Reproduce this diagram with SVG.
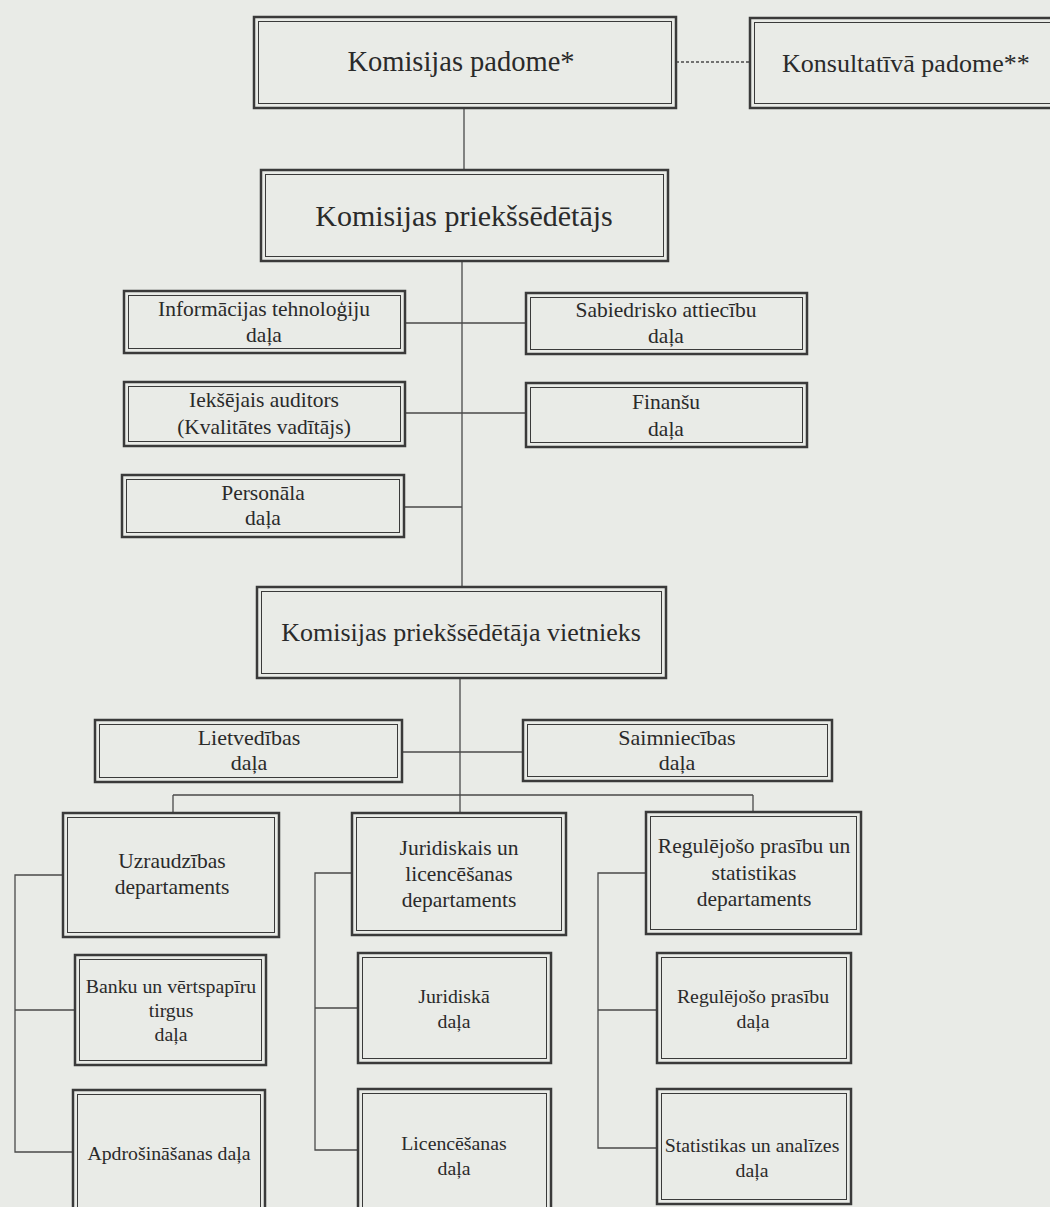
<svg xmlns="http://www.w3.org/2000/svg" width="1050" height="1207" viewBox="0 0 1050 1207">
<style>
.o{fill:none;stroke:#3a3a3a;stroke-width:2.5}
.i{fill:none;stroke:#3a3a3a;stroke-width:1}
.c{fill:none;stroke:#4a4a4a;stroke-width:1.3}
text{font-family:"Liberation Serif","Times New Roman",serif;fill:#2a2a2a;text-anchor:middle}
.ta{font-size:28.5px}
.tc{font-size:30px}
.td{font-size:26px}
.ts{font-size:21.5px}
.tl{font-size:22px}
.tp{font-size:21.5px}
.tb{font-size:19.8px}
</style>
<rect width="1050" height="1207" fill="#e9ebe7"/>
<g id="connectors">
<path class="c" d="M676 62 H750" stroke-dasharray="3 2"/>
<path class="c" d="M464 108 V170"/>
<path class="c" d="M462 261 V587"/>
<path class="c" d="M405 323 H526 M405 413 H526 M404 507 H462"/>
<path class="c" d="M460 678 V813"/>
<path class="c" d="M402 752 H523"/>
<path class="c" d="M173 795 H753 M173 795 V813 M753 795 V812"/>
<path class="c" d="M63 875 H15 V1152 H73 M15 1010 H75"/>
<path class="c" d="M352 873 H315 V1150 H358 M315 1008 H358"/>
<path class="c" d="M646 873 H598 V1148 H657 M598 1010 H657"/>
</g>
<g id="n1"><rect class="o" x="254" y="17" width="422" height="91"/><rect class="i" x="258.5" y="21.5" width="413" height="82"/><text class="ta" x="461" y="71">Komisijas padome*</text></g>
<g id="n2"><rect class="o" x="750" y="18" width="320" height="90"/><rect class="i" x="754.5" y="22.5" width="320" height="81"/><text class="td" x="782" y="72" style="text-anchor:start">Konsultatīvā padome**</text></g>
<g id="n3"><rect class="o" x="261" y="170" width="407" height="91"/><rect class="i" x="265.5" y="174.5" width="398" height="82"/><text class="tc" x="464" y="226">Komisijas priekšsēdētājs</text></g>
<g id="n4"><rect class="o" x="124" y="291" width="281" height="62"/><rect class="i" x="128.5" y="295.5" width="272" height="53"/><text class="ts" x="264" y="316">Informācijas tehnoloģiju</text><text class="ts" x="264" y="342">daļa</text></g>
<g id="n5"><rect class="o" x="526" y="293" width="281" height="61"/><rect class="i" x="530.5" y="297.5" width="272" height="52"/><text class="ts" x="666" y="317">Sabiedrisko attiecību</text><text class="ts" x="666" y="343">daļa</text></g>
<g id="n6"><rect class="o" x="124" y="382" width="281" height="64"/><rect class="i" x="128.5" y="386.5" width="272" height="55"/><text class="ts" x="264" y="407">Iekšējais auditors</text><text class="ts" x="264" y="434">(Kvalitātes vadītājs)</text></g>
<g id="n7"><rect class="o" x="526" y="383" width="281" height="64"/><rect class="i" x="530.5" y="387.5" width="272" height="55"/><text class="ts" x="666" y="409">Finanšu</text><text class="ts" x="666" y="436">daļa</text></g>
<g id="n8"><rect class="o" x="122" y="475" width="282" height="62"/><rect class="i" x="126.5" y="479.5" width="273" height="53"/><text class="ts" x="263" y="500">Personāla</text><text class="ts" x="263" y="525">daļa</text></g>
<g id="n9"><rect class="o" x="257" y="587" width="409" height="91"/><rect class="i" x="261.5" y="591.5" width="400" height="82"/><text class="td" x="461" y="641">Komisijas priekšsēdētāja vietnieks</text></g>
<g id="n10"><rect class="o" x="95" y="720" width="307" height="62"/><rect class="i" x="99.5" y="724.5" width="298" height="53"/><text class="tl" x="249" y="745">Lietvedības</text><text class="tl" x="249" y="770">daļa</text></g>
<g id="n11"><rect class="o" x="523" y="720" width="309" height="61"/><rect class="i" x="527.5" y="724.5" width="300" height="52"/><text class="tl" x="677" y="745">Saimniecības</text><text class="tl" x="677" y="770">daļa</text></g>
<g id="n12"><rect class="o" x="63" y="813" width="216" height="124"/><rect class="i" x="67.5" y="817.5" width="207" height="115"/><text class="tp" x="172" y="868">Uzraudzības</text><text class="tp" x="172" y="894">departaments</text></g>
<g id="n13"><rect class="o" x="352" y="813" width="214" height="122"/><rect class="i" x="356.5" y="817.5" width="205" height="113"/><text class="tp" x="459" y="855">Juridiskais un</text><text class="tp" x="459" y="881">licencēšanas</text><text class="tp" x="459" y="907">departaments</text></g>
<g id="n14"><rect class="o" x="646" y="812" width="215" height="122"/><rect class="i" x="650.5" y="816.5" width="206" height="113"/><text class="tp" x="754" y="853">Regulējošo prasību un</text><text class="tp" x="754" y="880">statistikas</text><text class="tp" x="754" y="906">departaments</text></g>
<g id="n15"><rect class="o" x="75" y="955" width="191" height="110"/><rect class="i" x="79.5" y="959.5" width="182" height="101"/><text class="tb" x="171" y="993">Banku un vērtspapīru</text><text class="tb" x="171" y="1017">tirgus</text><text class="tb" x="171" y="1041">daļa</text></g>
<g id="n16"><rect class="o" x="73" y="1090" width="192" height="125"/><rect class="i" x="77.5" y="1094.5" width="183" height="116"/><text class="tb" x="169" y="1160">Apdrošināšanas daļa</text></g>
<g id="n17"><rect class="o" x="358" y="953" width="193" height="110"/><rect class="i" x="362.5" y="957.5" width="184" height="101"/><text class="tb" x="454" y="1003">Juridiskā</text><text class="tb" x="454" y="1028">daļa</text></g>
<g id="n18"><rect class="o" x="358" y="1089" width="193" height="126"/><rect class="i" x="362.5" y="1093.5" width="184" height="117"/><text class="tb" x="454" y="1150">Licencēšanas</text><text class="tb" x="454" y="1175">daļa</text></g>
<g id="n19"><rect class="o" x="657" y="953" width="194" height="110"/><rect class="i" x="661.5" y="957.5" width="185" height="101"/><text class="tb" x="753" y="1003">Regulējošo prasību</text><text class="tb" x="753" y="1028">daļa</text></g>
<g id="n20"><rect class="o" x="657" y="1089" width="194" height="115"/><rect class="i" x="661.5" y="1093.5" width="185" height="106"/><text class="tb" x="752" y="1152">Statistikas un analīzes</text><text class="tb" x="752" y="1177">daļa</text></g>
</svg>
